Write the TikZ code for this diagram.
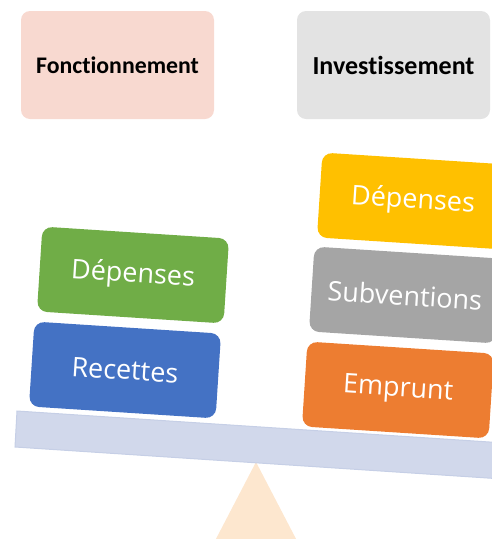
\documentclass[tikz,border=0pt]{standalone}
\usepackage{fontspec}
\setmainfont{Carlito}[Ligatures={NoCommon,NoRare,NoContextual}]
\newfontfamily\blockfont{Open Sans}
\definecolor{foncfill}{HTML}{F8D9D0}
\definecolor{invfill}{HTML}{E3E3E3}
\definecolor{depgreen}{HTML}{70AD47}
\definecolor{recblue}{HTML}{4472C4}
\definecolor{depyellow}{HTML}{FFC000}
\definecolor{subgray}{HTML}{A5A5A5}
\definecolor{emporange}{HTML}{ED7D31}
\definecolor{beamfill}{HTML}{D1D8EB}
\definecolor{beamedge}{HTML}{C6CFE6}
\definecolor{pivotfill}{HTML}{FDE7CF}
\begin{document}
\begin{tikzpicture}[x=1pt,y=-1pt,
  topbox/.style={rectangle, rounded corners=9pt, minimum width=193pt,
    minimum height=108pt, inner sep=0pt, text=black},
  block/.style={rectangle, rounded corners=10pt, minimum width=187pt,
    minimum height=85pt, inner sep=0pt, rotate=-3.7, text=white,
    font=\blockfont\fontsize{27}{32}\selectfont}]
\useasboundingbox (0,0) rectangle (492,539);
\clip (0,0) rectangle (492,539);

% section headers
\node[topbox, fill=foncfill, font=\fontsize{23.8}{28}\selectfont\bfseries]
  (fonc) at (117.5,65) {Fonctionnement};
\node[topbox, fill=invfill, font=\fontsize{26}{30}\selectfont\bfseries]
  (inv) at (393.5,65) {Investissement};

% pivot of the scale
\fill[pivotfill] (256,462) -- (205,560) -- (307,560) -- cycle;

% tilted beam
\filldraw[fill=beamfill, draw=beamedge, line width=1pt]
  (17,411) -- (520,444) -- (518,480) -- (15,447) -- cycle;

% left pan: operating budget
\node[block, fill=depgreen] (fdep) at (133,275) {Dépenses};
\node[block, fill=recblue] (frec) at (125,370) {Recettes};

% right pan: investment budget
\node[block, fill=depyellow] (idep) at (413,201) {Dépenses};
\node[block, fill=subgray] (isub) at (405,295) {Subventions};
\node[block, fill=emporange] (iemp) at (398,390) {Emprunt};
\end{tikzpicture}
\end{document}
